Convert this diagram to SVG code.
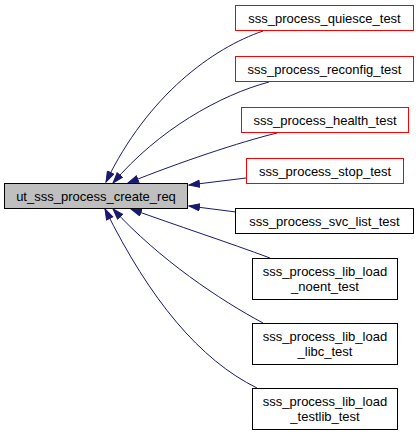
<svg xmlns="http://www.w3.org/2000/svg" width="420" height="437" viewBox="0 0 420 437">
<style>
text{font-family:"Liberation Sans",Arial,sans-serif;font-size:13px;fill:#000;text-anchor:middle}
.r{fill:#fff;stroke:#ff0000;stroke-width:1}
.b{fill:#fff;stroke:#000;stroke-width:1}
.m{fill:#bfbfbf;stroke:#000;stroke-width:1}
.e{fill:none;stroke:#191970;stroke-width:1}
</style>
<defs>
<marker id="ah" markerUnits="userSpaceOnUse" markerWidth="13" markerHeight="10" refX="11" refY="4" orient="auto">
<path d="M0.5,0.5 L11,4 L0.5,7.5 z" fill="#191970" stroke="#191970"/>
</marker>
</defs>
<rect width="420" height="437" fill="#fff"/>
<g id="edges">
<path class="e" marker-end="url(#ah)" d="M263,31 C213,48 148,95 106,182"/>
<path class="e" marker-end="url(#ah)" d="M269,82 C220,95 158,130 113,183"/>
<path class="e" marker-end="url(#ah)" d="M277,133 C240,142 180,162 128,183"/>
<path class="e" marker-end="url(#ah)" d="M246,178 L189,185"/>
<path class="e" marker-end="url(#ah)" d="M236,212 L189,206"/>
<path class="e" marker-end="url(#ah)" d="M270,258 C230,243 175,225 131,209"/>
<path class="e" marker-end="url(#ah)" d="M263,323 C220,300 160,260 113,209"/>
<path class="e" marker-end="url(#ah)" d="M257,388 C200,360 150,300 105,209"/>
</g>
<g id="main"><rect class="m" x="4.5" y="183.5" width="183" height="25"/><text x="96" y="200.5">ut_sss_process_create_req</text></g>
<g id="quiesce"><rect class="r" x="235.5" y="5.5" width="178" height="25"/><text x="324.5" y="22.5">sss_process_quiesce_test</text></g>
<g id="reconfig"><rect class="r" x="235.5" y="56.5" width="178" height="25"/><text x="324.5" y="73.5">sss_process_reconfig_test</text></g>
<g id="health"><rect class="r" x="241.5" y="107.5" width="167" height="25"/><text x="325" y="124.5">sss_process_health_test</text></g>
<g id="stop"><rect class="r" x="246.5" y="158.5" width="157" height="25"/><text x="325" y="175.5">sss_process_stop_test</text></g>
<g id="svclist"><rect class="b" x="235.5" y="208.5" width="178" height="25"/><text x="324.5" y="225.5">sss_process_svc_list_test</text></g>
<g id="noent"><rect class="b" x="252.5" y="258.5" width="145" height="41"/><text x="325" y="276">sss_process_lib_load</text><text x="325" y="291">_noent_test</text></g>
<g id="libc"><rect class="b" x="252.5" y="323.5" width="145" height="41"/><text x="325" y="341">sss_process_lib_load</text><text x="325" y="356">_libc_test</text></g>
<g id="testlib"><rect class="b" x="252.5" y="388.5" width="145" height="41"/><text x="325" y="406">sss_process_lib_load</text><text x="325" y="421">_testlib_test</text></g>
</svg>
